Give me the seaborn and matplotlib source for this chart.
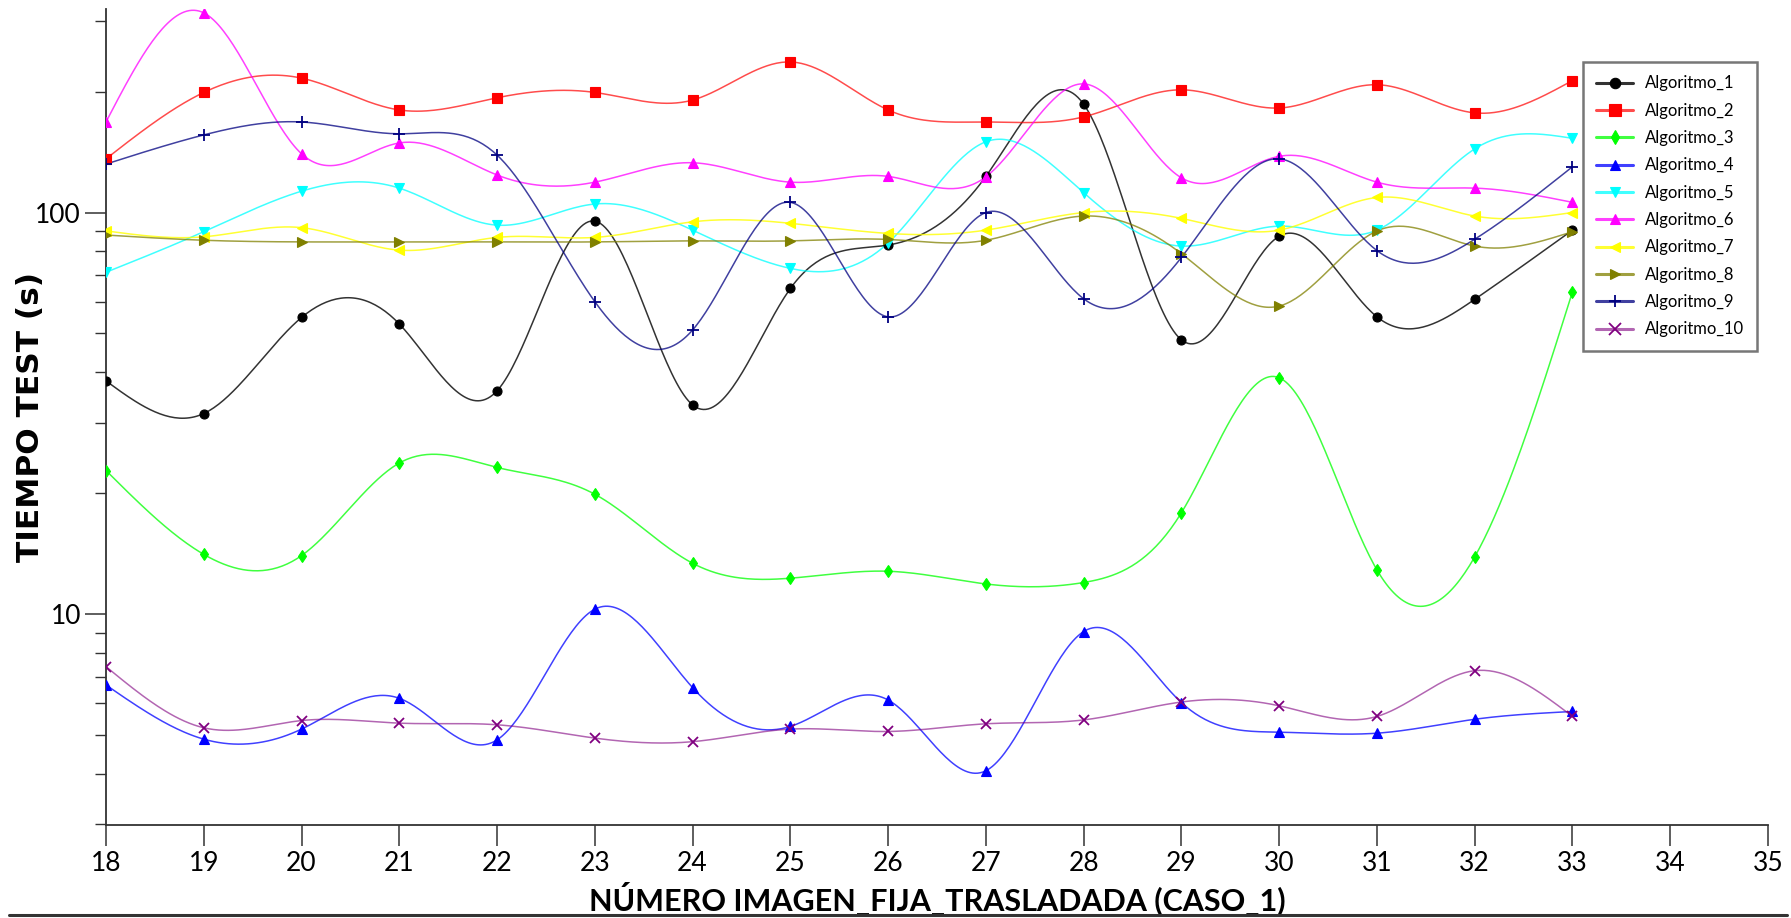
import numpy as np
import pandas as pd
import matplotlib
matplotlib.use("Agg")
import matplotlib.pyplot as plt
from matplotlib.lines import Line2D
from matplotlib.ticker import LogLocator, NullFormatter, FixedLocator
import matplotlib.colors as mcolors
import seaborn as sns

# ---------------- data ----------------
imagen = [18, 19, 20, 21, 22, 23, 24, 25, 26, 27, 28, 29, 30, 31, 32, 33]
series_names = ["Algoritmo_1", "Algoritmo_2", "Algoritmo_3", "Algoritmo_4", "Algoritmo_5",
                "Algoritmo_6", "Algoritmo_7", "Algoritmo_8", "Algoritmo_9", "Algoritmo_10"]
alg1 = [38.1, 31.6, 54.8, 52.8, 36.0, 95.2, 33.2, 64.7, 83.0, 123, 186, 48.2, 87.3, 55.0, 60.8, 90.4]
alg2 = [136, 199, 216, 180, 193, 199, 190.5, 237, 180, 168, 173, 202, 182, 208, 177, 213]
alg3 = [22.8, 14.1, 14.0, 23.8, 23.2, 19.9, 13.4, 12.3, 12.8, 11.9, 12.0, 17.9, 38.8, 12.9, 13.9, 63.5]
alg4 = [6.67, 4.89, 5.18, 6.18, 4.87, 10.3, 6.57, 5.26, 6.12, 4.08, 9.06, 6.03, 5.09, 5.06, 5.48, 5.73]
alg5 = [71, 89.6, 113, 115, 93, 105, 90.4, 72.6, 84, 150, 112, 82.5, 92.5, 90.4, 144, 153]
alg6 = [168, 314, 140, 149, 124, 119, 133, 119, 123, 122.7, 209, 122, 138, 119, 115, 106]
alg7 = [90, 87, 91.7, 80.6, 86.7, 86.7, 94.8, 94, 88.7, 90.4, 100, 96.7, 90.4, 109, 98, 100]
alg8 = [87.9, 85.3, 84.5, 84.5, 84.5, 84.5, 85, 85, 85.7, 85.3, 98, 79, 58.5, 90, 82.5, 89.6]
alg9 = [132, 156, 168, 157, 139, 60, 51, 106, 55, 100, 61, 77.3, 136, 80.4, 85.8, 130]
alg10 = [7.41, 5.22, 5.44, 5.36, 5.31, 4.92, 4.82, 5.18, 5.11, 5.34, 5.46, 6.05, 5.92, 5.57, 7.24, 5.57]
x_ticks = list(range(18, 36))
y_tick_labels = ["10", "100"]

all_series = [alg1, alg2, alg3, alg4, alg5, alg6, alg7, alg8, alg9, alg10]

colors = ["#000000", "#FF0000", "#00FF00", "#0000FF", "#00FFFF",
          "#FF00FF", "#FFFF00", "#808000", "#000080", "#800080"]
markers = ["o", "s", "d", "^", "v", "^", "<", ">", "+", "x"]
msizes = [6.5, 7.5, 6.5, 6.5, 6.5, 6.5, 6.5, 6.5, 8, 7]
line_alpha = [0.8, 0.7, 0.75, 0.75, 0.75, 0.75, 0.8, 0.75, 0.75, 0.6]


def natural_spline(x, y, xs):
    x = np.asarray(x, float)
    y = np.asarray(y, float)
    n = len(x)
    h = np.diff(x)
    A = np.zeros((n, n))
    b = np.zeros(n)
    A[0, 0] = 1.0
    A[-1, -1] = 1.0
    for i in range(1, n - 1):
        A[i, i - 1] = h[i - 1]
        A[i, i] = 2 * (h[i - 1] + h[i])
        A[i, i + 1] = h[i]
        b[i] = 3 * ((y[i + 1] - y[i]) / h[i] - (y[i] - y[i - 1]) / h[i - 1])
    c = np.linalg.solve(A, b)
    bb = (y[1:] - y[:-1]) / h - h * (2 * c[:-1] + c[1:]) / 3
    d = (c[1:] - c[:-1]) / (3 * h)
    idx = np.clip(np.searchsorted(x, xs) - 1, 0, n - 2)
    t = xs - x[idx]
    return y[idx] + bb[idx] * t + c[idx] * t ** 2 + d[idx] * t ** 3


# ---------------- figure ----------------
sns.set_theme(style="white")
plt.rcParams["font.family"] = ["Lato", "DejaVu Sans"]
for key in ["text.color", "axes.labelcolor", "xtick.color", "ytick.color"]:
    plt.rcParams[key] = "black"

fig = plt.figure(figsize=(17.91, 9.18), dpi=100)
ax = fig.add_axes([106 / 1791, 1 - 825 / 918, (1768 - 106) / 1791, (825 - 9) / 918])

xs = np.linspace(imagen[0], imagen[-1], 600)
handles = []
for name, vals, col, mk, ms, la in zip(series_names, all_series, colors, markers, msizes, line_alpha):
    rgb = mcolors.to_rgb(col)
    ys = 10 ** natural_spline(imagen, np.log10(vals), xs)
    sns.lineplot(x=xs, y=ys, ax=ax, color=rgb, alpha=la, linewidth=1.1, legend=False,
                 estimator=None, sort=False)
    ax.plot(imagen, vals, linestyle="none", marker=mk, markersize=ms,
            color=col, markeredgewidth=1.3 if mk in "+x" else 0.8, zorder=5)
    handles.append(Line2D([], [], color=(*rgb, la), linewidth=2.2, marker=mk,
                          markersize=ms + 1, markerfacecolor=col, markeredgecolor=col,
                          markeredgewidth=1.3 if mk in "+x" else 0.8))

ax.set_yscale("log")
ax.set_xlim(18, 35)
ax.set_ylim(2.99, 321)
ax.set_xticks(x_ticks)
ax.set_xticklabels([str(v) for v in x_ticks])
ax.yaxis.set_major_locator(FixedLocator([10, 100]))
ax.set_yticklabels(y_tick_labels)
ax.yaxis.set_minor_locator(LogLocator(base=10, subs=np.arange(2, 10), numticks=20))
ax.yaxis.set_minor_formatter(NullFormatter())

for side in ["top", "right"]:
    ax.spines[side].set_visible(False)
for side in ["left", "bottom"]:
    ax.spines[side].set_color("#333333")
    ax.spines[side].set_linewidth(1.3)

ax.tick_params(axis="x", which="major", direction="out", length=15, width=1.1,
               color="#333333", labelsize=19, pad=4, bottom=True)
ax.tick_params(axis="y", which="major", direction="out", length=15, width=1.1,
               color="#333333", labelsize=19, pad=3, left=True)
ax.tick_params(axis="y", which="minor", direction="out", length=8, width=1.0,
               color="#333333", left=True)
ax.tick_params(axis="x", which="minor", bottom=False)

ax.set_xlabel("NÚMERO IMAGEN_FIJA_TRASLADADA (CASO_1)", fontsize=22, fontweight="bold")
ax.xaxis.set_label_coords(0.5, -0.070)
ax.set_ylabel("TIEMPO TEST (s)", fontsize=22.5, fontweight="bold",
              family=["DejaVu Sans"])
ax.yaxis.set_label_coords(-0.037, 0.5)

leg = ax.legend(handles, series_names, loc="upper left",
                bbox_to_anchor=((1583 - 106) / 1662, (825 - 62) / 816),
                borderaxespad=0, fontsize=12, frameon=True, fancybox=False,
                edgecolor="#555555", handlelength=2.2, handletextpad=0.7,
                labelspacing=0.68, borderpad=0.8)
leg.get_frame().set_linewidth(1.8)

fig.add_artist(Line2D([0.005, 0.998], [1 - 915 / 918, 1 - 915 / 918],
                      transform=fig.transFigure, color="#333333", linewidth=2.2))

fig.savefig("out.png", dpi=100, facecolor="white")
